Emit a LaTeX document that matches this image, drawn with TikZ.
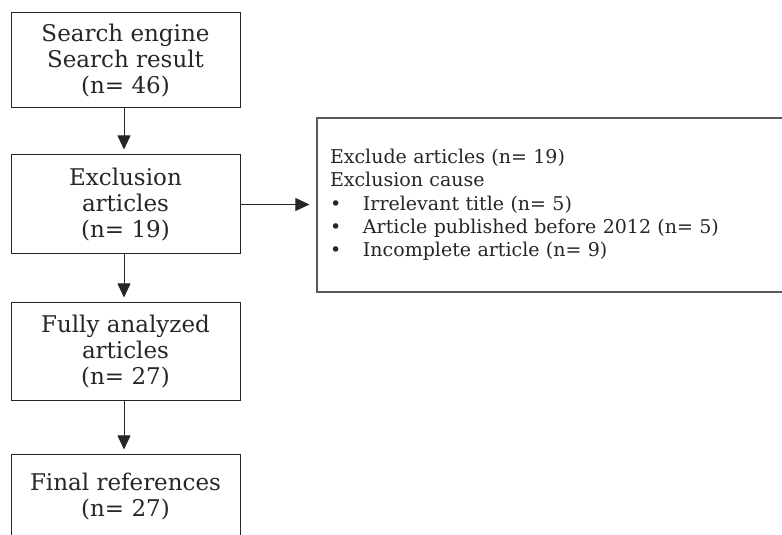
\documentclass[tikz,border=0pt]{standalone}
\usepackage{fontspec}
\setmainfont{DejaVu Serif}
\usetikzlibrary{arrows.meta}
\begin{document}
\begin{tikzpicture}[x=1pt,y=1pt,
  box/.style={draw=black!85, line width=1pt, minimum width=229pt, align=center,
    inner sep=0pt, text=black!85, font=\fontsize{23}{26}\selectfont},
  sidebox/.style={draw=black!65, line width=1.2pt, minimum width=473pt, minimum height=174pt,
    inner xsep=13pt, inner ysep=0pt, text width=447pt, align=left, text=black!85,
    font=\fontsize{19}{23.3}\selectfont},
  arr/.style={draw=black!85, line width=0.9pt, -{Triangle[length=14pt,width=13pt]}}]
\useasboundingbox (0,0) rectangle (782,535);
\clip (0,0) rectangle (782,535);
\node[box, minimum height=95pt] (search) at (125.5,474.5) {Search engine\\Search result\\(n= 46)};
\node[box, minimum height=99pt] (excl) at (125.5,330.5) {Exclusion\\articles\\(n= 19)};
\node[box, minimum height=98pt] (full) at (125.5,183) {Fully analyzed\\articles\\(n= 27)};
\node[box, minimum height=83pt] (final) at (125.5,38.5) {Final references\\(n= 27)};
\node[sidebox] (cause) at (553.5,330) {Exclude articles (n= 19)\\Exclusion cause\\
  \makebox[33pt][l]{\hspace{0pt}\textbullet}Irrelevant title (n= 5)\\
  \makebox[33pt][l]{\hspace{0pt}\textbullet}Article published before 2012 (n= 5)\\
  \makebox[33pt][l]{\hspace{0pt}\textbullet}Incomplete article (n= 9)};
\draw[arr, shorten >=5pt] ([xshift=-1.5pt]search.south) -- ([xshift=-1.5pt]excl.north);
\draw[arr, shorten >=7pt] (excl.east) -- (excl.east -| cause.west);
\draw[arr, shorten >=5pt] ([xshift=-1.5pt]excl.south) -- ([xshift=-1.5pt]full.north);
\draw[arr, shorten >=5pt] ([xshift=-1.5pt]full.south) -- ([xshift=-1.5pt]final.north);
\end{tikzpicture}
\end{document}
